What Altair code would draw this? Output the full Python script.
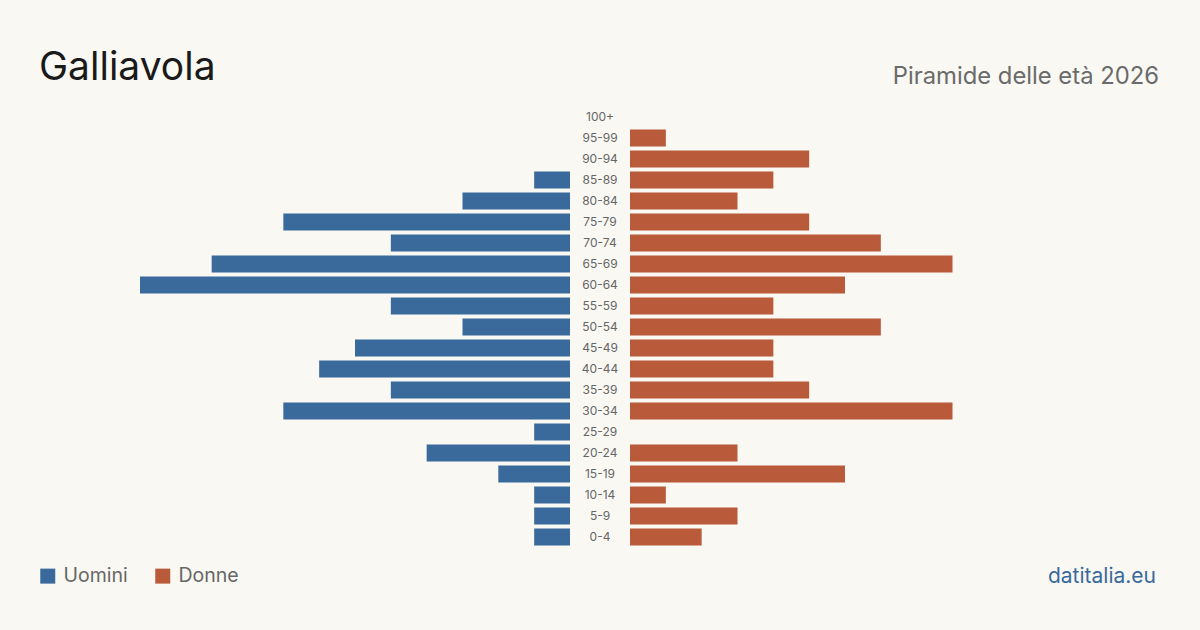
import altair as alt
import pandas as pd

ages = ["100+", "95-99", "90-94", "85-89", "80-84", "75-79", "70-74", "65-69",
        "60-64", "55-59", "50-54", "45-49", "40-44", "35-39", "30-34", "25-29",
        "20-24", "15-19", "10-14", "5-9", "0-4"]
uomini = [0, 0, 0, 1, 3, 8, 5, 10, 12, 5, 3, 6, 7, 5, 8, 1, 4, 2, 1, 1, 1]
donne = [0, 1, 5, 4, 3, 5, 7, 9, 6, 4, 7, 4, 4, 5, 9, 0, 3, 6, 1, 3, 2]

BLUE = "#3a6a9c"
ORANGE = "#b95b3b"
BG = "#f9f8f3"
FONT = "Inter"

df_m = pd.DataFrame({"eta": ages, "n": uomini, "sesso": "Uomini"})
df_f = pd.DataFrame({"eta": ages, "n": donne, "sesso": "Donne"})
df_lab = pd.DataFrame({"eta": ages})

yscale = alt.Scale(domain=ages, range=[106.5, 547.5], paddingInner=0.19, paddingOuter=0.095)
color = alt.Color("sesso:N",
                  scale=alt.Scale(domain=["Uomini", "Donne"], range=[BLUE, ORANGE]),
                  legend=alt.Legend(title=None, orient="none", legendX=38, legendY=566,
                                    direction="horizontal", symbolType="square",
                                    symbolSize=225, symbolStrokeWidth=0, symbolOpacity=1,
                                    labelFontSize=19.5, labelColor="#666666", labelFont=FONT,
                                    labelOffset=6, columnPadding=25, symbolOffset=0,
                                    padding=0))

men = alt.Chart(df_m).mark_bar(opacity=1).encode(
    x=alt.X("n:Q", scale=alt.Scale(domain=[0, 12], range=[570, 140]), axis=None),
    y=alt.Y("eta:N", scale=yscale, axis=None, sort=ages),
    color=color,
)
women = alt.Chart(df_f).mark_bar(opacity=1).encode(
    x=alt.X("n:Q", scale=alt.Scale(domain=[0, 12], range=[630, 1060]), axis=None),
    y=alt.Y("eta:N", scale=yscale, axis=None, sort=ages),
    color=color,
)
labels = alt.Chart(df_lab).mark_text(fontSize=12, color="#666666", font=FONT,
                                     align="center", baseline="middle").encode(
    x=alt.value(600),
    y=alt.Y("eta:N", scale=yscale, axis=None, sort=ages),
    text="eta:N",
)

def txt(s, x, y, size, col, align="left", weight="normal"):
    return alt.Chart(pd.DataFrame({"t": [s]})).mark_text(
        fontSize=size, color=col, font=FONT, align=align, baseline="alphabetic",
        fontWeight=weight).encode(x=alt.value(x), y=alt.value(y), text="t:N")

title = txt("Galliavola", 39, 80, 39, "#1a1a1a")
subtitle = txt("Piramide delle età 2026", 1159, 84, 23.8, "#6b6b6b", align="right")
footer = txt("datitalia.eu", 1156, 583, 21, BLUE, align="right")

chart = alt.layer(men, women, labels, title, subtitle, footer).resolve_scale(
    x="independent"
).properties(
    width=1200, height=630, autosize=alt.AutoSizeParams(type="none"), padding=0,
    background=BG,
).configure_view(stroke=None)

chart.save("out.html", embed_options={"renderer": "svg", "actions": False})
